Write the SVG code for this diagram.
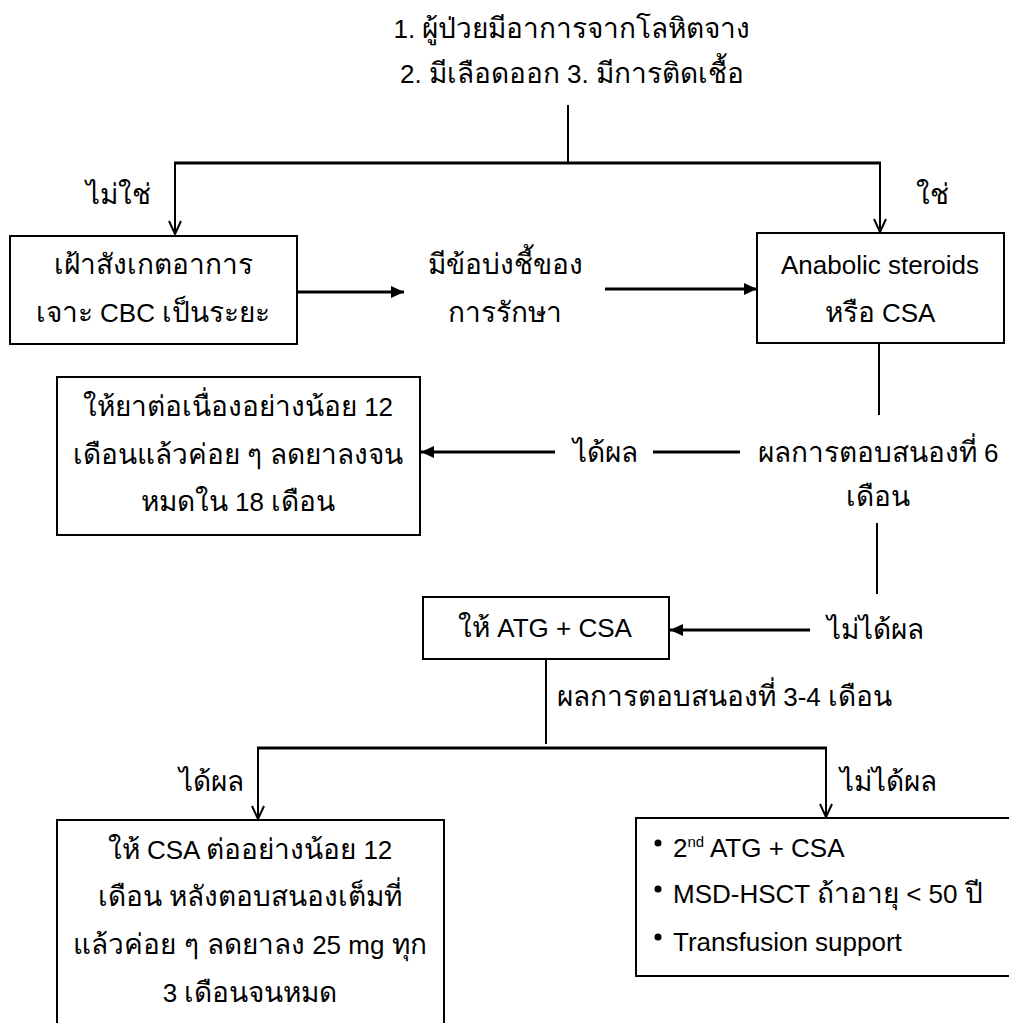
<svg xmlns="http://www.w3.org/2000/svg" width="1009" height="1023" viewBox="0 0 1009 1023">
<style>
text{font-family:"Liberation Sans","Noto Sans","DejaVu Sans",sans-serif;font-size:26px;fill:#000}
.c{text-anchor:middle}
.th{font-size:28px}
.box{fill:#fff;stroke:#000;stroke-width:2}
.ln{fill:none;stroke:#000;stroke-width:2}
.br{fill:none;stroke:#000;stroke-width:3}
</style>
<defs>
<marker id="v" markerWidth="16" markerHeight="16" refX="14" refY="8" orient="auto" markerUnits="userSpaceOnUse">
<path d="M1,2 L14,8 L1,14" fill="none" stroke="#000" stroke-width="2"/>
</marker>
<marker id="t" markerWidth="14" markerHeight="12" refX="13" refY="6" orient="auto" markerUnits="userSpaceOnUse">
<path d="M0,0 L13,6 L0,12 Z" fill="#000"/>
</marker>
</defs>
<g id="connectors">
<line class="ln" x1="568" y1="105" x2="568" y2="163"/>
<line class="br" x1="174" y1="163" x2="881" y2="163"/>
<line class="ln" x1="175" y1="163" x2="175" y2="234" marker-end="url(#v)"/>
<line class="ln" x1="880" y1="163" x2="880" y2="232" marker-end="url(#v)"/>
<line class="br" x1="297" y1="292" x2="404" y2="292" marker-end="url(#t)"/>
<line class="br" x1="605" y1="289" x2="757" y2="289" marker-end="url(#t)"/>
<line class="ln" x1="879" y1="343" x2="879" y2="415"/>
<line class="br" x1="740" y1="452" x2="653" y2="452"/>
<line class="br" x1="555" y1="452" x2="421" y2="452" marker-end="url(#t)"/>
<line class="ln" x1="877" y1="523" x2="877" y2="594"/>
<line class="br" x1="810" y1="630" x2="670" y2="630" marker-end="url(#t)"/>
<line class="ln" x1="546" y1="659" x2="546" y2="744"/>
<line class="br" x1="257" y1="748" x2="827" y2="748"/>
<line class="ln" x1="258" y1="748" x2="258" y2="819" marker-end="url(#v)"/>
<line class="ln" x1="826" y1="748" x2="826" y2="817" marker-end="url(#v)"/>
</g>
<g id="title">
<text class="c" x="572" y="38">1. <tspan class="th">ผู้ป่วยมีอาการจากโลหิตจาง</tspan></text>
<text class="c" x="572" y="83">2. <tspan class="th">มีเลือดออก</tspan> 3. <tspan class="th">มีการติดเชื้อ</tspan></text>
</g>
<g id="label-no1"><text class="c th" x="118" y="204">ไม่ใช่</text></g>
<g id="label-yes1"><text class="c th" x="932" y="204">ใช่</text></g>
<g id="node-observe">
<rect class="box" x="10" y="236" width="287" height="108"/>
<text class="c th" x="153" y="274">เฝ้าสังเกตอาการ</text>
<text class="c" x="153" y="322"><tspan class="th">เจาะ</tspan> CBC <tspan class="th">เป็นระยะ</tspan></text>
</g>
<g id="node-indication">
<text class="c th" x="505" y="274">มีข้อบ่งชี้ของ</text>
<text class="c th" x="505" y="322">การรักษา</text>
</g>
<g id="node-anabolic">
<rect class="box" x="757" y="233" width="247" height="110"/>
<text class="c" x="880" y="274">Anabolic steroids</text>
<text class="c" x="880" y="322"><tspan class="th">หรือ</tspan> CSA</text>
</g>
<g id="node-resp6">
<text class="c" x="878" y="462"><tspan class="th">ผลการตอบสนองที่</tspan> 6</text>
<text class="c th" x="878" y="506">เดือน</text>
</g>
<g id="label-yes2"><text class="c th" x="605" y="462">ได้ผล</text></g>
<g id="node-continue">
<rect class="box" x="57" y="377" width="363" height="158"/>
<text class="c" x="238" y="416"><tspan class="th">ให้ยาต่อเนื่องอย่างน้อย</tspan> 12</text>
<text class="c th" x="238" y="464">เดือนแล้วค่อย ๆ ลดยาลงจน</text>
<text class="c" x="238" y="511"><tspan class="th">หมดใน</tspan> 18 <tspan class="th">เดือน</tspan></text>
</g>
<g id="label-no2"><text class="c th" x="875" y="639">ไม่ได้ผล</text></g>
<g id="node-atg">
<rect class="box" x="423" y="597" width="246" height="62"/>
<text class="c" x="545" y="637"><tspan class="th">ให้</tspan> ATG + CSA</text>
</g>
<g id="label-resp34"><text x="557" y="706"><tspan class="th">ผลการตอบสนองที่</tspan> 3-4 <tspan class="th">เดือน</tspan></text></g>
<g id="label-yes3"><text class="c th" x="211" y="791">ได้ผล</text></g>
<g id="label-no3"><text class="c th" x="888" y="791">ไม่ได้ผล</text></g>
<g id="node-csa">
<rect class="box" x="57" y="820" width="387" height="215"/>
<text class="c" x="250" y="859"><tspan class="th">ให้</tspan> CSA <tspan class="th">ต่ออย่างน้อย</tspan> 12</text>
<text class="c th" x="250" y="906">เดือน หลังตอบสนองเต็มที่</text>
<text class="c" x="250" y="954"><tspan class="th">แล้วค่อย ๆ ลดยาลง</tspan> 25 mg <tspan class="th">ทุก</tspan></text>
<text class="c" x="250" y="1002">3 <tspan class="th">เดือนจนหมด</tspan></text>
</g>
<g id="node-options">
<rect class="box" x="636" y="818" width="378" height="158"/>
<circle cx="658" cy="843" r="3.5"/>
<circle cx="658" cy="889" r="3.5"/>
<circle cx="658" cy="937" r="3.5"/>
<text x="673" y="857">2<tspan font-size="15" dy="-10">nd</tspan><tspan dy="10"> ATG + CSA</tspan></text>
<text x="673" y="903">MSD-HSCT <tspan class="th">ถ้าอายุ</tspan> &lt; 50 <tspan class="th">ปี</tspan></text>
<text x="673" y="951">Transfusion support</text>
</g>
</svg>
